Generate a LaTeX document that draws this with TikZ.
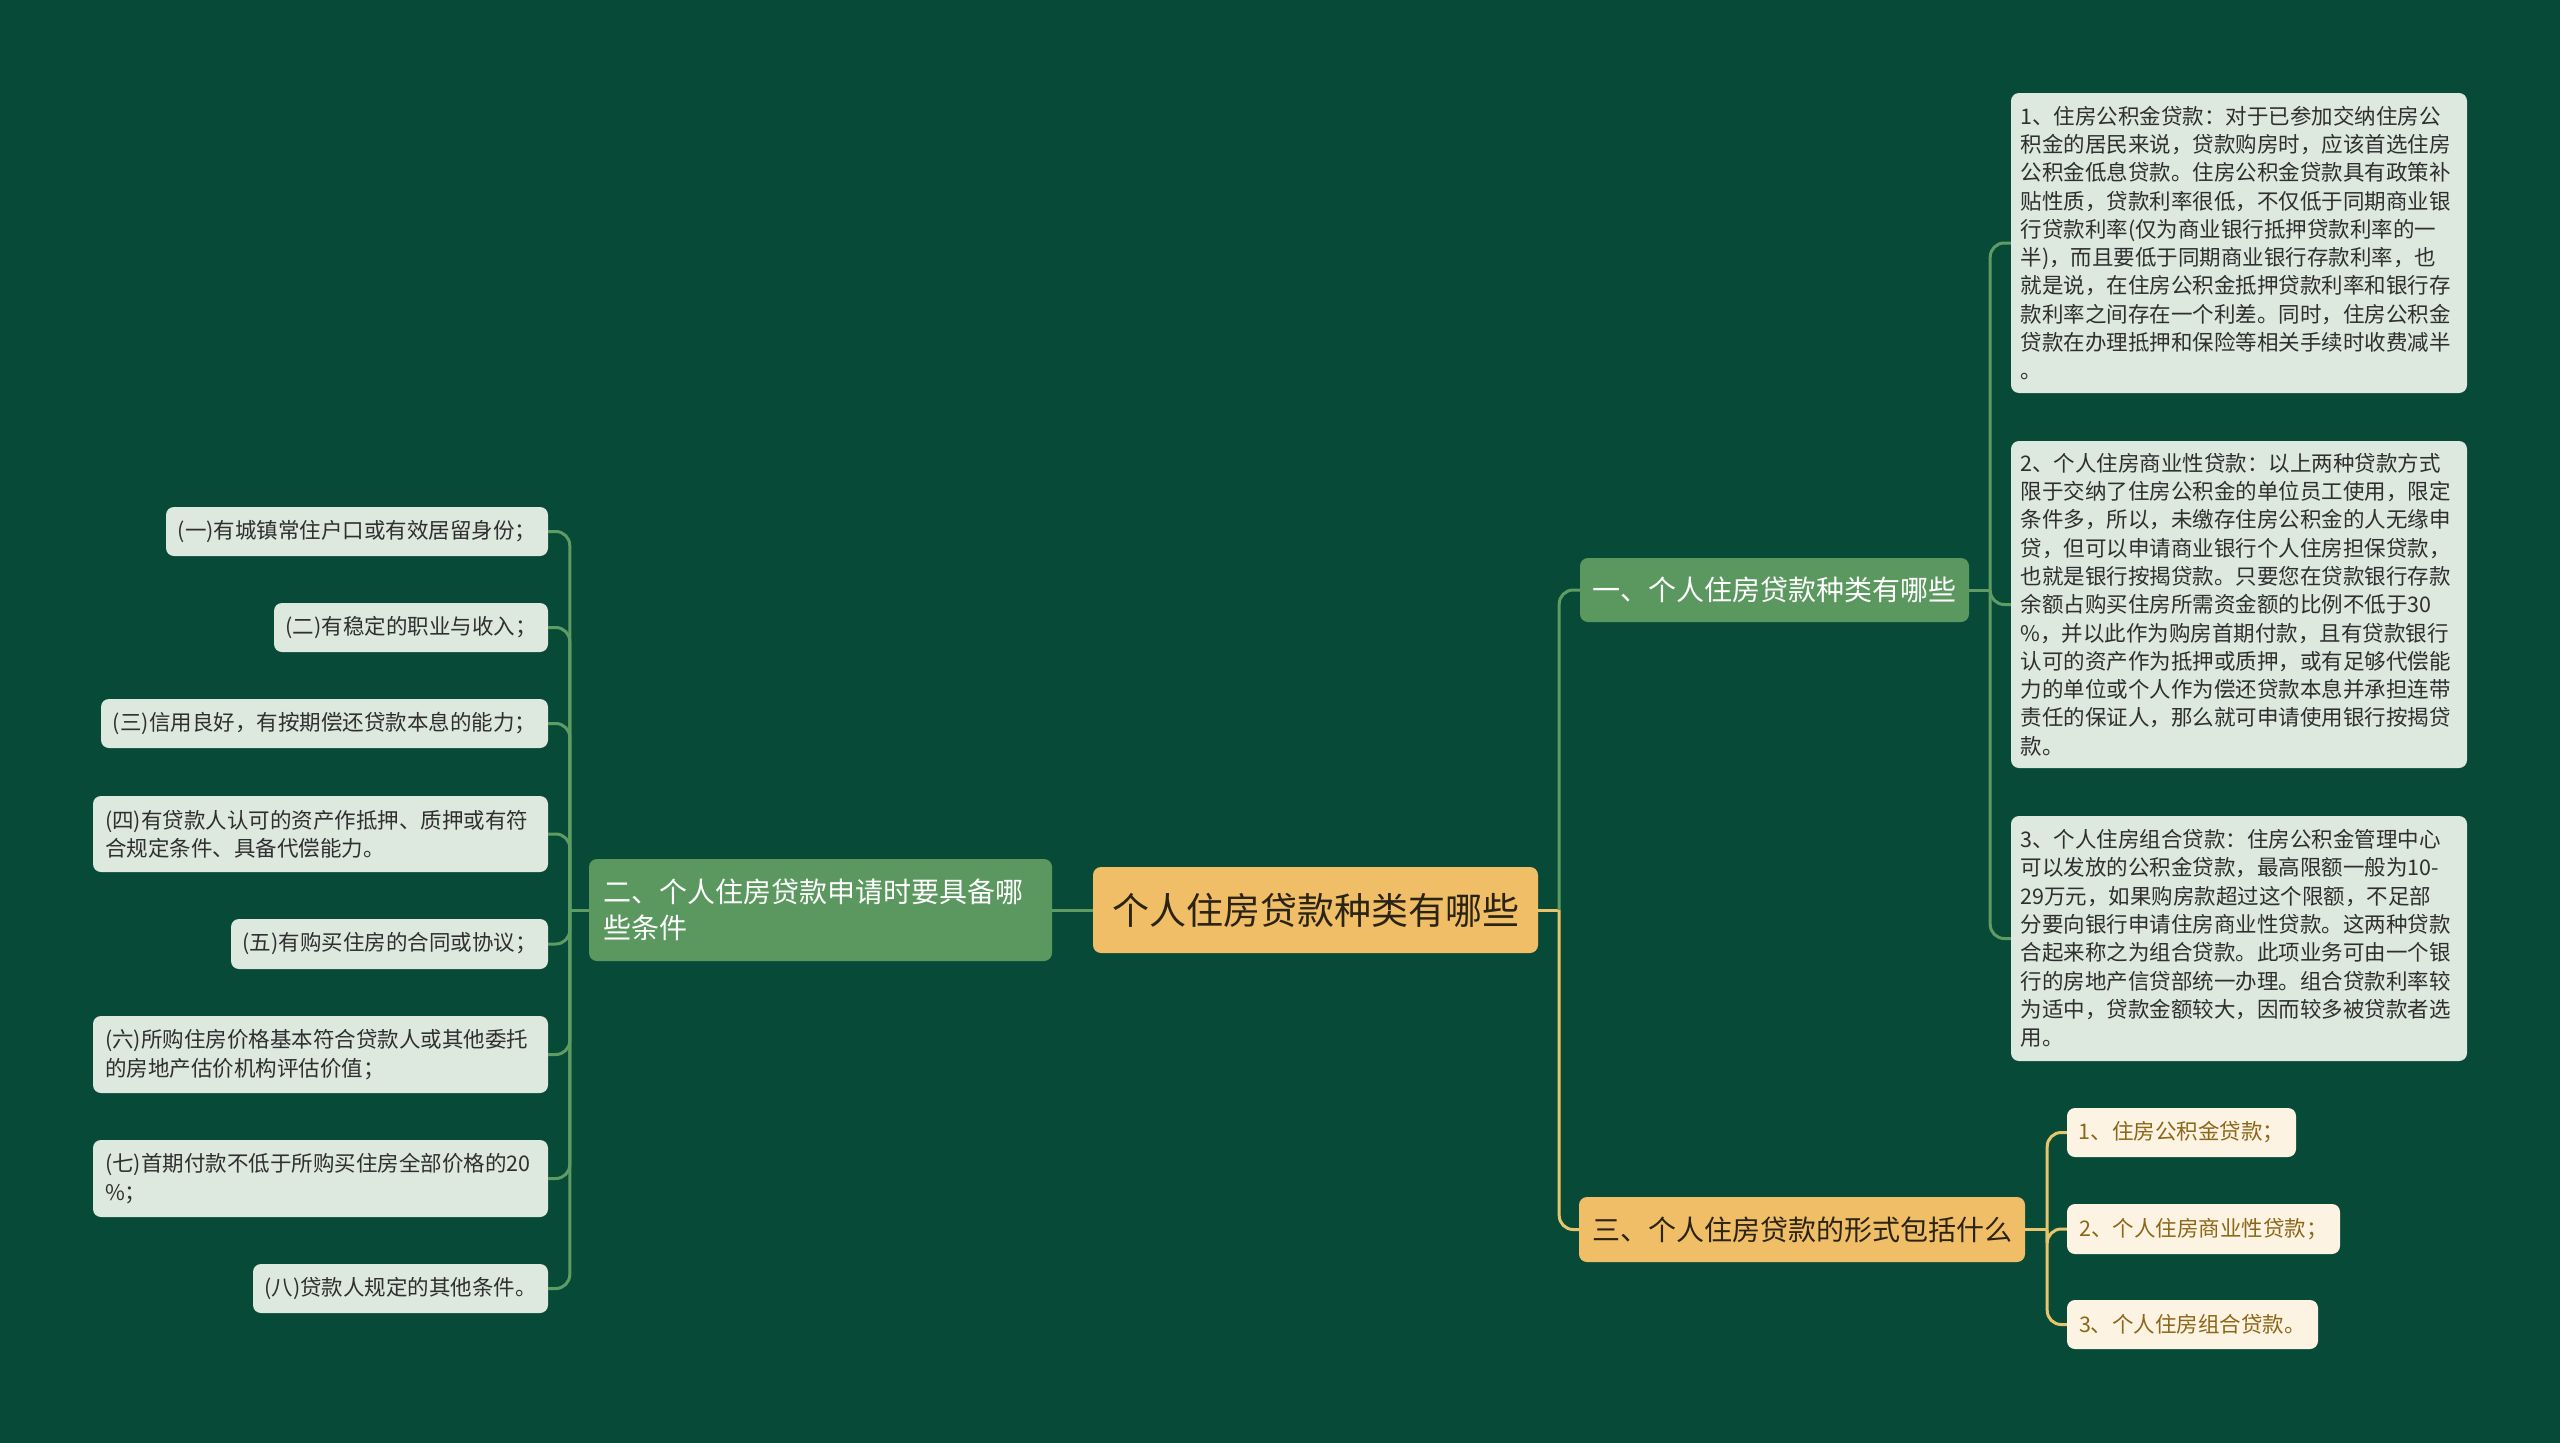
\documentclass[tikz,border=0pt]{standalone}
\usepackage{fontspec}
\setmainfont{Noto Sans CJK SC}
\definecolor{bgc}{HTML}{084A38}
\definecolor{gnode}{HTML}{5A985F}
\definecolor{gline}{HTML}{5E9C64}
\definecolor{rootc}{HTML}{F0BE66}
\definecolor{yline}{HTML}{E8C46C}
\definecolor{leafc}{HTML}{DDE8DF}
\definecolor{leaftxt}{HTML}{2F2F2F}
\definecolor{creamc}{HTML}{FCF3E2}
\definecolor{creamtxt}{HTML}{8C6719}
\definecolor{roottxt}{HTML}{2B2414}
\tikzset{
  box/.style={rounded corners=8pt, inner sep=0pt, align=center},
  rootbox/.style={box, fill=rootc, text=roottxt, font=\fontsize{37}{44}\selectfont},
  greenbox/.style={box, fill=gnode, text=white, font=\fontsize{28}{36}\selectfont},
  yellowbox/.style={box, fill=rootc, text=roottxt, font=\fontsize{28}{36}\selectfont},
  leafbox/.style={box, fill=leafc, text=leaftxt, font=\fontsize{21.5}{28.3}\selectfont},
  creambox/.style={box, fill=creamc, text=creamtxt, font=\fontsize{21.5}{28.3}\selectfont},
  gconn/.style={draw=gline, line width=3pt},
  yconn/.style={draw=yline, line width=3pt},
  rc/.style={rounded corners=14pt}
}
\begin{document}
\begin{tikzpicture}[x=1pt,y=-1pt]
\fill[bgc] (0,0) rectangle (2560,1443);
\useasboundingbox (0,0) rectangle (2560,1443);

% root and main branches
\node[rootbox, minimum width=445pt, minimum height=86pt] (root) at (1315.5,910) {个人住房贷款种类有哪些};
\node[greenbox, align=left, text width=435pt, minimum width=463pt, minimum height=102pt] (two) at (820.5,910) {二、个人住房贷款申请时要具备哪\\些条件};
\node[greenbox, minimum width=389pt, minimum height=64pt] (one) at (1774.5,590) {一、个人住房贷款种类有哪些};
\node[yellowbox, minimum width=446pt, minimum height=65pt] (three) at (1802,1229.5) {三、个人住房贷款的形式包括什么};

% right detail boxes
\node[leafbox, align=left, text width=437pt, minimum width=456pt, minimum height=300pt] (r1) at (2239,243) {1、住房公积金贷款：对于已参加交纳住房公\\积金的居民来说，贷款购房时，应该首选住房\\公积金低息贷款。住房公积金贷款具有政策补\\贴性质，贷款利率很低，不仅低于同期商业银\\行贷款利率(仅为商业银行抵押贷款利率的一\\半)，而且要低于同期商业银行存款利率，也\\就是说，在住房公积金抵押贷款利率和银行存\\款利率之间存在一个利差。同时，住房公积金\\贷款在办理抵押和保险等相关手续时收费减半\\。};
\node[leafbox, align=left, text width=437pt, minimum width=456pt, minimum height=327pt] (r2) at (2239,604.5) {2、个人住房商业性贷款：以上两种贷款方式\\限于交纳了住房公积金的单位员工使用，限定\\条件多，所以，未缴存住房公积金的人无缘申\\贷，但可以申请商业银行个人住房担保贷款，\\也就是银行按揭贷款。只要您在贷款银行存款\\余额占购买住房所需资金额的比例不低于30\\\%，并以此作为购房首期付款，且有贷款银行\\认可的资产作为抵押或质押，或有足够代偿能\\力的单位或个人作为偿还贷款本息并承担连带\\责任的保证人，那么就可申请使用银行按揭贷\\款。};
\node[leafbox, align=left, text width=437pt, minimum width=456pt, minimum height=245pt] (r3) at (2239,938.5) {3、个人住房组合贷款：住房公积金管理中心\\可以发放的公积金贷款，最高限额一般为10-\\29万元，如果购房款超过这个限额，不足部\\分要向银行申请住房商业性贷款。这两种贷款\\合起来称之为组合贷款。此项业务可由一个银\\行的房地产信贷部统一办理。组合贷款利率较\\为适中，贷款金额较大，因而较多被贷款者选\\用。};

% 三 leaves
\node[creambox, minimum width=229pt, minimum height=49pt] (t1) at (2181.5,1132.5) {1、住房公积金贷款；};
\node[creambox, minimum width=273pt, minimum height=50pt] (t2) at (2203.5,1229) {2、个人住房商业性贷款；};
\node[creambox, minimum width=251pt, minimum height=49pt] (t3) at (2192.5,1324.5) {3、个人住房组合贷款。};

% left leaves
\node[leafbox, minimum width=382pt, minimum height=49pt] (l1) at (357,531.5) {(一)有城镇常住户口或有效居留身份；};
\node[leafbox, minimum width=274pt, minimum height=49pt] (l2) at (411,627.5) {(二)有稳定的职业与收入；};
\node[leafbox, minimum width=447pt, minimum height=49pt] (l3) at (324.5,723.5) {(三)信用良好，有按期偿还贷款本息的能力；};
\node[leafbox, align=left, text width=431pt, minimum width=455pt, minimum height=76pt] (l4) at (320.5,834) {(四)有贷款人认可的资产作抵押、质押或有符\\合规定条件、具备代偿能力。};
\node[leafbox, minimum width=317pt, minimum height=50pt] (l5) at (389.5,944) {(五)有购买住房的合同或协议；};
\node[leafbox, align=left, text width=431pt, minimum width=455pt, minimum height=77pt] (l6) at (320.5,1054.5) {(六)所购住房价格基本符合贷款人或其他委托\\的房地产估价机构评估价值；};
\node[leafbox, align=left, text width=431pt, minimum width=455pt, minimum height=77pt] (l7) at (320.5,1178.5) {(七)首期付款不低于所购买住房全部价格的20\\\%；};
\node[leafbox, minimum width=295pt, minimum height=49pt] (l8) at (400.5,1288.5) {(八)贷款人规定的其他条件。};

% connectors: root
\draw[gconn] (root.west) -- (two.east);
\draw[yconn] (root.east) -- ++(21,0) coordinate (rj);
\draw[gconn, rc] (rj) |- (one.west);
\draw[yconn, rc] (rj) |- (three.west);

% connectors: 一
\draw[gconn] (one.east) -- ++(21,0) coordinate (oj);
\foreach \c in {r1,r2,r3} { \draw[gconn, rc] (oj) |- (\c.west); }

% connectors: 二
\draw[gconn] (two.west) -- ++(-19,0) coordinate (tj);
\foreach \c in {l1,l2,l3,l4,l5,l6,l7,l8} { \draw[gconn, rc] (tj) |- (\c.east); }

% connectors: 三
\draw[yconn] (three.east) -- ++(22,0) coordinate (hj);
\foreach \c in {t1,t2,t3} { \draw[yconn, rc] (hj) |- (\c.west); }
\end{tikzpicture}
\end{document}
